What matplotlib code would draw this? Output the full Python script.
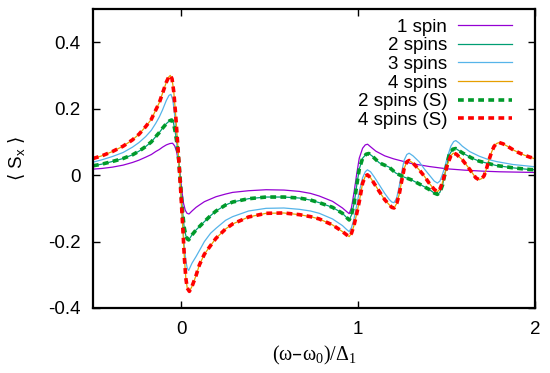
import matplotlib
matplotlib.use("Agg")
import matplotlib.pyplot as plt

# ---- data ----
x1 = [-0.5, -0.45, -0.39, -0.33, -0.277, -0.24, -0.202, -0.17, -0.145, -0.125, -0.107, -0.085, -0.065, -0.05,
      -0.038, -0.028, -0.018, -0.008, 0.002, 0.012, 0.022, 0.032, 0.043, 0.06, 0.083, 0.102, 0.13, 0.165, 0.196,
      0.25, 0.29, 0.38, 0.479, 0.58, 0.667, 0.73, 0.78, 0.855, 0.911, 0.935, 0.949, 0.962, 0.977, 0.992, 1.006,
      1.025, 1.04, 1.053, 1.075, 1.10, 1.15, 1.2, 1.3, 1.4, 1.5, 1.6, 1.7, 1.8, 1.9, 2.0]
y1 = [0.018, 0.020, 0.024, 0.030, 0.038, 0.045, 0.054, 0.062, 0.071, 0.077, 0.084, 0.091, 0.095, 0.096,
      0.088, 0.072, 0.045, 0.005, -0.045, -0.085, -0.106, -0.115, -0.117, -0.108, -0.097, -0.090, -0.080, -0.072, -0.065,
      -0.057, -0.052, -0.047, -0.044, -0.045, -0.049, -0.055, -0.063, -0.079, -0.099, -0.110, -0.116, -0.098, -0.050, 0.005, 0.051,
      0.081, 0.091, 0.093, 0.083, 0.072, 0.058, 0.049, 0.035, 0.026, 0.019, 0.015, 0.012, 0.010, 0.009, 0.008]

x2 = [-0.5, -0.45, -0.39, -0.33, -0.277, -0.24, -0.202, -0.17, -0.145, -0.125, -0.107, -0.085, -0.068, -0.055,
      -0.045, -0.035, -0.025, -0.015, -0.005, 0.005, 0.015, 0.025, 0.033, 0.041, 0.06, 0.083, 0.102, 0.13, 0.165,
      0.196, 0.25, 0.29, 0.38, 0.479, 0.58, 0.667, 0.73, 0.78, 0.855, 0.911, 0.935, 0.949, 0.962, 0.977, 0.992,
      1.006, 1.025, 1.045, 1.06, 1.08, 1.119, 1.175, 1.213, 1.26, 1.3, 1.35, 1.401, 1.43, 1.448, 1.462, 1.477,
      1.495, 1.514, 1.535, 1.552, 1.589, 1.64, 1.684, 1.78, 1.874, 1.966, 2.0]
y2 = [0.028, 0.033, 0.041, 0.050, 0.061, 0.072, 0.086, 0.100, 0.116, 0.128, 0.141, 0.155, 0.163, 0.166,
      0.158, 0.130, 0.095, 0.045, -0.025, -0.100, -0.155, -0.182, -0.192, -0.195, -0.180, -0.165, -0.155, -0.140, -0.122,
      -0.108, -0.090, -0.081, -0.071, -0.066, -0.066, -0.069, -0.075, -0.083, -0.097, -0.115, -0.128, -0.135, -0.120, -0.085, -0.030,
      0.018, 0.051, 0.063, 0.065, 0.057, 0.037, 0.024, 0.006, -0.006, -0.014, -0.028, -0.043, -0.054, -0.058, -0.052, -0.030,
      0.015, 0.060, 0.078, 0.080, 0.067, 0.052, 0.042, 0.029, 0.022, 0.017, 0.016]

x3 = [-0.5, -0.45, -0.39, -0.33, -0.277, -0.24, -0.202, -0.17, -0.145, -0.125, -0.107, -0.085, -0.07, -0.059,
      -0.048, -0.038, -0.028, -0.017, -0.005, 0.005, 0.015, 0.025, 0.033, 0.041, 0.06, 0.083, 0.102, 0.13, 0.165,
      0.196, 0.25, 0.29, 0.38, 0.479, 0.58, 0.667, 0.73, 0.78, 0.855, 0.911, 0.935, 0.949, 0.962, 0.977, 0.992,
      1.006, 1.025, 1.04, 1.052, 1.07, 1.09, 1.119, 1.15, 1.175, 1.19, 1.203, 1.218, 1.232, 1.246, 1.26, 1.275,
      1.288, 1.31, 1.345, 1.375, 1.401, 1.43, 1.448, 1.462, 1.475, 1.486, 1.505, 1.524, 1.54, 1.552, 1.57, 1.589,
      1.63, 1.684, 1.73, 1.78, 1.874, 1.966, 2.0]
y3 = [0.039, 0.046, 0.056, 0.068, 0.084, 0.098, 0.116, 0.135, 0.156, 0.175, 0.196, 0.225, 0.240, 0.243,
      0.225, 0.180, 0.120, 0.045, -0.045, -0.130, -0.205, -0.258, -0.280, -0.287, -0.265, -0.245, -0.227, -0.200, -0.175,
      -0.160, -0.136, -0.125, -0.108, -0.100, -0.099, -0.103, -0.108, -0.115, -0.132, -0.152, -0.164, -0.170, -0.158, -0.130, -0.090,
      -0.050, -0.008, 0.010, 0.016, 0.010, -0.005, -0.029, -0.055, -0.073, -0.081, -0.083, -0.068, -0.034, 0.010, 0.045, 0.062,
      0.066, 0.058, 0.040, 0.018, 0.001, -0.018, -0.024, -0.018, 0.000, 0.018, 0.055, 0.087, 0.101, 0.104, 0.097, 0.087,
      0.071, 0.057, 0.048, 0.041, 0.032, 0.027, 0.025]

x4 = [-0.5, -0.45, -0.39, -0.33, -0.277, -0.24, -0.202, -0.17, -0.145, -0.125, -0.107, -0.085, -0.072, -0.063,
      -0.053, -0.043, -0.033, -0.023, -0.013, -0.003, 0.007, 0.017, 0.025, 0.033, 0.045, 0.06, 0.083, 0.102, 0.13,
      0.165, 0.196, 0.25, 0.29, 0.38, 0.479, 0.58, 0.667, 0.73, 0.78, 0.855, 0.911, 0.935, 0.949, 0.962, 0.977,
      0.992, 1.006, 1.025, 1.04, 1.052, 1.07, 1.09, 1.119, 1.15, 1.175, 1.19, 1.203, 1.218, 1.232, 1.246, 1.26,
      1.275, 1.288, 1.31, 1.345, 1.375, 1.401, 1.43, 1.448, 1.462, 1.475, 1.486, 1.505, 1.524, 1.537, 1.555, 1.589,
      1.62, 1.646, 1.665, 1.684, 1.70, 1.712, 1.725, 1.740, 1.755, 1.768, 1.782, 1.797, 1.82, 1.853, 1.88, 1.910,
      1.94, 1.966, 2.0]
y4 = [0.050, 0.058, 0.071, 0.087, 0.106, 0.123, 0.146, 0.168, 0.196, 0.218, 0.246, 0.280, 0.295, 0.300,
      0.290, 0.250, 0.185, 0.110, 0.030, -0.055, -0.150, -0.250, -0.310, -0.340, -0.350, -0.335, -0.302, -0.270, -0.238,
      -0.212, -0.190, -0.162, -0.147, -0.126, -0.115, -0.114, -0.119, -0.125, -0.132, -0.150, -0.170, -0.180, -0.185, -0.175, -0.150,
      -0.115, -0.080, -0.024, -0.004, 0.001, -0.008, -0.025, -0.049, -0.074, -0.089, -0.097, -0.099, -0.085, -0.058, -0.018, 0.020,
      0.040, 0.044, 0.036, 0.016, -0.004, -0.024, -0.043, -0.050, -0.042, -0.025, -0.004, 0.032, 0.058, 0.066, 0.063, 0.046,
      0.025, 0.006, -0.008, -0.014, -0.010, -0.002, 0.018, 0.046, 0.070, 0.086, 0.095, 0.098, 0.094, 0.084, 0.075, 0.067,
      0.060, 0.055, 0.049]

# semiclassical (S) results coincide with the exact curves
x2s, y2s = x2, y2
x4s, y4s = x4, y4

labels = ["1 spin", "2 spins", "3 spins", "4 spins", "2 spins (S)", "4 spins (S)"]
xticks = [0, 1, 2]
yticks = [-0.4, -0.2, 0, 0.2, 0.4]
ytick_labels = ["-0.4", "-0.2", "0", "0.2", "0.4"]

# ---- figure ----
plt.rcParams['font.family'] = ['Liberation Sans', 'DejaVu Sans']
FS = 13.5

fig = plt.figure(figsize=(5.5, 3.73), dpi=100)
ax = fig.add_axes([93/550, 1-308/373, (535-93)/550, (308-9)/373])

ax.plot(x1, y1, color='#9400d3', lw=0.9, label=labels[0])
ax.plot(x2, y2, color='#009e73', lw=0.9, label=labels[1])
ax.plot(x3, y3, color='#56b4e9', lw=0.9, label=labels[2])
ax.plot(x4, y4, color='#e69f00', lw=0.9, label=labels[3])
ax.plot(x2s, y2s, color='#009a2a', lw=2.6, ls=(0, (1.6, 1.2)), label=labels[4])
ax.plot(x4s, y4s, color='#ff0000', lw=2.6, ls=(0, (1.6, 1.2)), label=labels[5])

ax.set_xlim(-0.5, 2)
ax.set_ylim(-0.4, 0.5)
ax.set_xticks(xticks)
ax.set_xticklabels([str(t) for t in xticks])
ax.set_yticks(yticks)
ax.set_yticklabels(ytick_labels)
ax.tick_params(direction='in', length=5, width=1, top=True, right=True,
               labelsize=FS, pad=9)
for s in ax.spines.values():
    s.set_linewidth(1.6)

ax.set_xlabel(r'(ω–ω$_\mathregular{0}$)/Δ$_\mathregular{1}$', fontsize=14.5,
              family=['Liberation Serif', 'DejaVu Serif'], labelpad=5)
ax.set_ylabel(r'$\langle$ S$_\mathregular{x}$ $\rangle$', fontsize=FS, labelpad=14)

leg = ax.legend(loc='upper right', bbox_to_anchor=(0.948, 0.968), frameon=False,
                markerfirst=False, fontsize=FS, handlelength=2.9, handletextpad=0.55,
                labelspacing=0.08, borderaxespad=0, borderpad=0)

fig.savefig('out.png', dpi=100)
